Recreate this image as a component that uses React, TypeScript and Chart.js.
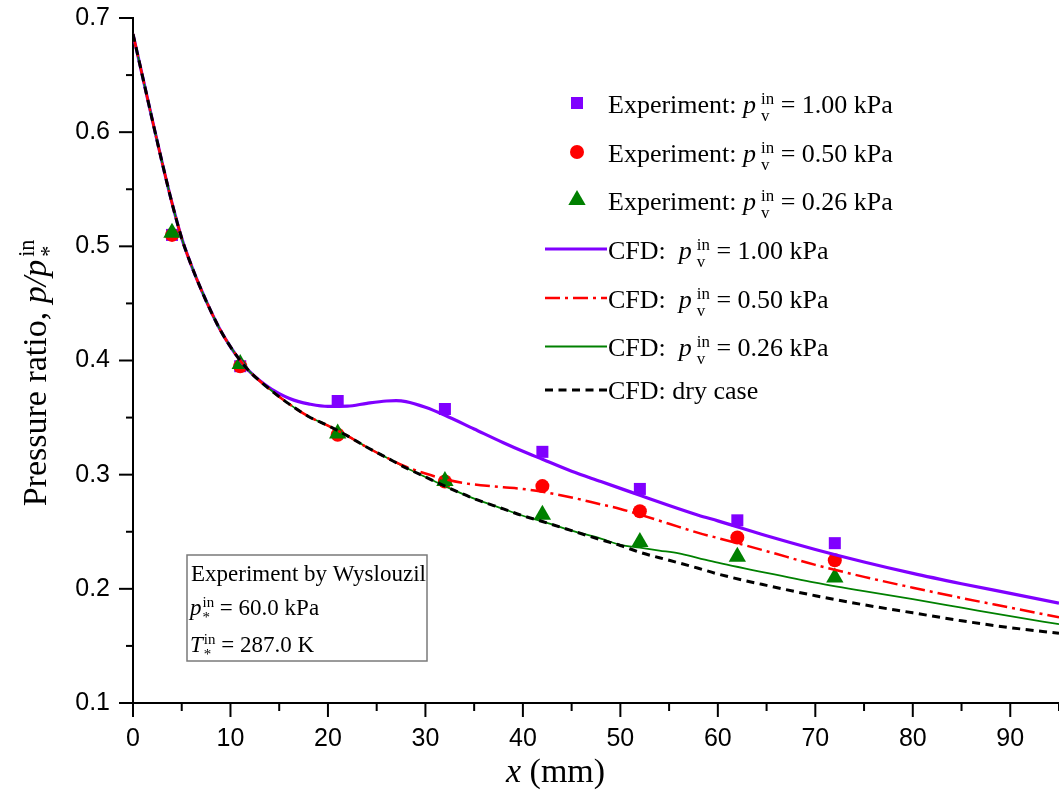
import React, { useEffect, useRef } from 'react';
import { Chart, registerables } from 'chart.js';

Chart.register(...registerables);

// ---------- Experimental data (x in mm, p/p*in) ----------
const expX = [4, 11, 21, 32, 42, 52, 62, 72];
const exp100 = [0.510, 0.395, 0.3645, 0.3575, 0.320, 0.2875, 0.260, 0.240];
const exp050 = [0.510, 0.395, 0.335, 0.294, 0.290, 0.268, 0.245, 0.225];
const exp026 = [0.512, 0.397, 0.336, 0.2945, 0.265, 0.241, 0.228, 0.210];

// ---------- CFD curves ----------
const cfd100X = [0, 1, 2, 3, 4, 5, 6, 7, 8, 9, 10, 11, 12, 14, 15, 16, 17, 18, 20, 22, 24, 26, 27, 28, 30, 32, 35, 38, 40, 42, 45, 48, 50, 52, 55, 58, 60, 65, 70, 75, 80, 85, 90, 95];
const cfd100Y = [0.686, 0.648, 0.610, 0.573, 0.538, 0.507, 0.483, 0.462, 0.443, 0.426, 0.412, 0.400, 0.390, 0.376, 0.371, 0.367, 0.364, 0.362, 0.3598, 0.360, 0.3625, 0.3645, 0.3648, 0.364, 0.359, 0.352, 0.340, 0.328, 0.3205, 0.3135, 0.303, 0.294, 0.288, 0.282, 0.273, 0.2645, 0.2595, 0.2465, 0.2345, 0.2235, 0.2135, 0.2045, 0.196, 0.1875];

const cfd050X = [0, 1, 2, 3, 4, 5, 6, 7, 8, 9, 10, 11, 12, 14, 16, 18, 20, 22, 24, 26, 28, 30, 32, 34, 36, 38, 40, 42, 45, 48, 50, 52, 55, 58, 60, 65, 70, 75, 80, 85, 90, 95];
const cfd050Y = [0.686, 0.648, 0.610, 0.573, 0.538, 0.507, 0.483, 0.462, 0.443, 0.426, 0.412, 0.400, 0.390, 0.375, 0.362, 0.351, 0.343, 0.334, 0.324, 0.315, 0.307, 0.301, 0.296, 0.2925, 0.2905, 0.289, 0.2875, 0.285, 0.280, 0.274, 0.270, 0.265, 0.257, 0.249, 0.2445, 0.233, 0.221, 0.2105, 0.201, 0.192, 0.1835, 0.175];

const cfd026X = [0, 1, 2, 3, 4, 5, 6, 7, 8, 9, 10, 11, 12, 14, 16, 18, 20, 22, 24, 26, 28, 30, 32, 35, 38, 40, 42, 45, 48, 50, 52, 54, 56, 58, 60, 65, 70, 75, 80, 85, 90, 95];
const cfd026Y = [0.686, 0.648, 0.610, 0.573, 0.538, 0.507, 0.483, 0.462, 0.443, 0.426, 0.412, 0.400, 0.390, 0.375, 0.362, 0.351, 0.343, 0.334, 0.324, 0.315, 0.306, 0.298, 0.290, 0.279, 0.270, 0.264, 0.259, 0.251, 0.244, 0.2385, 0.236, 0.2335, 0.231, 0.227, 0.223, 0.214, 0.2055, 0.198, 0.191, 0.1835, 0.176, 0.169];

const dryX = [0, 1, 2, 3, 4, 5, 6, 7, 8, 9, 10, 11, 12, 14, 16, 18, 20, 22, 24, 26, 28, 30, 32, 35, 38, 40, 42, 45, 48, 50, 52, 55, 58, 60, 65, 70, 75, 80, 85, 90, 95];
const dryY = [0.686, 0.648, 0.610, 0.573, 0.538, 0.507, 0.483, 0.462, 0.443, 0.426, 0.412, 0.400, 0.390, 0.375, 0.362, 0.351, 0.343, 0.334, 0.324, 0.315, 0.306, 0.298, 0.290, 0.279, 0.270, 0.264, 0.259, 0.251, 0.243, 0.238, 0.232, 0.225, 0.218, 0.213, 0.203, 0.194, 0.186, 0.179, 0.172, 0.166, 0.161];

// ---------- Axis ticks ----------
const xMajorTicks = [0, 10, 20, 30, 40, 50, 60, 70, 80, 90];
const xMinorTicks = [5, 15, 25, 35, 45, 55, 65, 75, 85, 95];
const yMajorTicks = [0.1, 0.2, 0.3, 0.4, 0.5, 0.6, 0.7];
const yMinorTicks = [0.15, 0.25, 0.35, 0.45, 0.55, 0.65];

const PURPLE = '#8000ff';
const RED = '#ff0000';
const GREEN = '#008000';
const BLACK = '#000000';

const SANS = '"Liberation Sans", Arial, sans-serif';
const SERIF = '"Liberation Serif", "Times New Roman", serif';

const W = 1059;
const H = 796;

type Part = { t: string; i?: boolean; sup?: string; sub?: string };

function rich(ctx: CanvasRenderingContext2D, x: number, y: number, parts: Part[], size: number, draw: boolean, gap = 3): number {
  let cx = x;
  for (const p of parts) {
    ctx.font = `${p.i ? 'italic ' : ''}${size}px ${SERIF}`;
    if (draw) ctx.fillText(p.t, cx, y);
    cx += ctx.measureText(p.t).width;
    if (p.sup || p.sub) {
      cx += gap;
      const s = size * 0.65;
      ctx.font = `${s}px ${SERIF}`;
      let w = 0;
      if (p.sup) {
        if (draw) ctx.fillText(p.sup, cx, y - size * 0.36);
        w = Math.max(w, ctx.measureText(p.sup).width);
      }
      if (p.sub) {
        if (draw) ctx.fillText(p.sub, cx, y + size * 0.3);
        w = Math.max(w, ctx.measureText(p.sub).width);
      }
      cx += w;
    }
  }
  return cx - x;
}

const overlay = {
  id: 'overlay',
  afterDraw(chart: any) {
    const ctx: CanvasRenderingContext2D = chart.ctx;
    const xs = chart.scales.x;
    const ys = chart.scales.y;
    const area = chart.chartArea;
    ctx.save();
    // ticks
    ctx.strokeStyle = '#000';
    ctx.lineWidth = 2;
    ctx.setLineDash([]);
    const tick = (x1: number, y1: number, x2: number, y2: number) => {
      ctx.beginPath(); ctx.moveTo(x1, y1); ctx.lineTo(x2, y2); ctx.stroke();
    };
    xMajorTicks.forEach(v => { const px = xs.getPixelForValue(v); tick(px, area.bottom, px, area.bottom + 14); });
    xMinorTicks.forEach(v => { const px = xs.getPixelForValue(v); tick(px, area.bottom, px, area.bottom + 8); });
    yMajorTicks.forEach(v => { const py = ys.getPixelForValue(v); tick(area.left, py, area.left - 14, py); });
    yMinorTicks.forEach(v => { const py = ys.getPixelForValue(v); tick(area.left, py, area.left - 7, py); });

    ctx.fillStyle = '#000';
    ctx.textBaseline = 'alphabetic';
    ctx.textAlign = 'left';

    // Y axis title
    const yParts: Part[] = [
      { t: 'Pressure ratio, ' },
      { t: 'p/p', i: true, sup: 'in', sub: '*' },
    ];
    const ySize = 34;
    const yW = rich(ctx, 0, 0, yParts, ySize, false);
    ctx.save();
    ctx.translate(46, 373);
    ctx.rotate(-Math.PI / 2);
    rich(ctx, -yW / 2, 0, yParts, ySize, true);
    ctx.restore();

    // X axis title
    rich(ctx, 506, 782, [{ t: 'x', i: true }, { t: ' (mm)' }], 34, true);

    // Legend
    const lx0 = 545, lx1 = 607, mx = 577, tx = 608, fs = 26;
    ctx.fillStyle = PURPLE;
    ctx.fillRect(mx - 6, 103 - 6, 12, 12);
    ctx.fillStyle = RED;
    ctx.beginPath(); ctx.arc(mx, 152, 7, 0, Math.PI * 2); ctx.fill();
    ctx.fillStyle = GREEN;
    ctx.beginPath();
    const r = 10;
    ctx.moveTo(mx, 200 - r);
    ctx.lineTo(mx + r * Math.sin(2 * Math.PI / 3), 200 + r / 2);
    ctx.lineTo(mx - r * Math.sin(2 * Math.PI / 3), 200 + r / 2);
    ctx.closePath(); ctx.fill();

    const legLine = (y: number, color: string, w: number, dash: number[]) => {
      ctx.strokeStyle = color; ctx.lineWidth = w; ctx.setLineDash(dash);
      ctx.beginPath(); ctx.moveTo(lx0, y); ctx.lineTo(lx1, y); ctx.stroke();
    };
    legLine(249, PURPLE, 3.2, []);
    legLine(298, RED, 2.5, [15, 5, 3, 5]);
    legLine(346.5, GREEN, 1.8, []);
    legLine(390, BLACK, 3, [8, 5.5]);
    ctx.setLineDash([]);

    ctx.fillStyle = '#000';
    const expRow = (y: number, val: string) =>
      rich(ctx, tx, y, [{ t: 'Experiment: ' }, { t: 'p', i: true, sup: 'in', sub: 'v' }, { t: ' = ' + val }], fs, true, 5);
    expRow(113, '1.00 kPa');
    expRow(162, '0.50 kPa');
    expRow(210, '0.26 kPa');
    const cfdRow = (y: number, val: string) =>
      rich(ctx, tx, y, [{ t: 'CFD:  ' }, { t: 'p', i: true, sup: 'in', sub: 'v' }, { t: ' = ' + val }], fs, true, 5);
    cfdRow(259, '1.00 kPa');
    cfdRow(308, '0.50 kPa');
    cfdRow(356, '0.26 kPa');
    rich(ctx, tx, 399, [{ t: 'CFD: dry case' }], fs, true);

    // Annotation box
    ctx.strokeStyle = '#7a7a7a';
    ctx.lineWidth = 1.5;
    ctx.strokeRect(187, 555, 240, 106);
    ctx.fillStyle = '#000';
    const bs = 23;
    rich(ctx, 191, 581, [{ t: 'Experiment by Wyslouzil' }], bs, true);
    rich(ctx, 190, 615, [{ t: 'p', i: true, sup: 'in', sub: '*' }, { t: ' = 60.0 kPa' }], bs, true, 1);
    rich(ctx, 190, 652, [{ t: 'T', i: true, sup: 'in', sub: '*' }, { t: ' = 287.0 K' }], bs, true, 1);

    ctx.restore();
  },
};

const pts = (xs: number[], ys: number[]) => xs.map((x, i) => ({ x, y: ys[i] }));

export default function App() {
  const ref = useRef<HTMLCanvasElement | null>(null);
  useEffect(() => {
    if (!ref.current) return;
    const lineBase = { showLine: true, pointRadius: 0, cubicInterpolationMode: 'monotone' as const, fill: false };
    const chart = new Chart(ref.current, {
      type: 'scatter',
      data: {
        datasets: [
          { ...lineBase, label: 'CFD dry', data: pts(dryX, dryY), borderColor: BLACK, borderWidth: 3, borderDash: [8, 5.5], order: 1 },
          { ...lineBase, label: 'CFD 0.50', data: pts(cfd050X, cfd050Y), borderColor: RED, borderWidth: 2.5, borderDash: [15, 5, 3, 5], order: 2 },
          { ...lineBase, label: 'CFD 0.26', data: pts(cfd026X, cfd026Y), borderColor: GREEN, borderWidth: 1.8, order: 3 },
          { ...lineBase, label: 'CFD 1.00', data: pts(cfd100X, cfd100Y), borderColor: PURPLE, borderWidth: 3.2, order: 4 },
          { label: 'Exp 0.26', data: pts(expX, exp026), pointStyle: 'triangle', pointRadius: 10, backgroundColor: GREEN, borderColor: GREEN, pointBorderWidth: 0, showLine: false, order: 5 },
          { label: 'Exp 0.50', data: pts(expX, exp050), pointStyle: 'circle', pointRadius: 7, backgroundColor: RED, borderColor: RED, pointBorderWidth: 0, showLine: false, order: 6 },
          { label: 'Exp 1.00', data: pts(expX, exp100), pointStyle: 'rect', pointRadius: 8.5, backgroundColor: PURPLE, borderColor: PURPLE, pointBorderWidth: 0, showLine: false, order: 7 },
        ] as any,
      },
      options: {
        animation: false,
        responsive: false,
        maintainAspectRatio: false,
        devicePixelRatio: 1,
        layout: { autoPadding: false, padding: { top: 18, right: 0, bottom: 0, left: 0 } },
        plugins: { legend: { display: false }, tooltip: { enabled: false }, title: { display: false } },
        scales: {
          x: {
            type: 'linear',
            min: 0,
            max: 95,
            afterFit: (s: any) => { s.height = 93; s.paddingLeft = 0; s.paddingRight = 0; },
            grid: { display: false, drawTicks: false },
            border: { display: true, color: '#000', width: 2 },
            ticks: {
              stepSize: 10,
              includeBounds: false,
              color: '#000',
              font: { family: SANS, size: 25 },
              padding: 21,
              maxRotation: 0,
              autoSkip: false,
              callback: (v: any) => String(v),
            },
          },
          y: {
            type: 'linear',
            min: 0.1,
            max: 0.7,
            afterFit: (s: any) => { s.width = 133; s.paddingTop = 0; s.paddingBottom = 0; },
            grid: { display: false, drawTicks: false },
            border: { display: true, color: '#000', width: 2 },
            ticks: {
              stepSize: 0.1,
              color: '#000',
              font: { family: SANS, size: 25 },
              padding: 23,
              autoSkip: false,
              callback: (v: any) => Number(v).toFixed(1),
            },
          },
        },
      } as any,
      plugins: [overlay],
    });
    return () => chart.destroy();
  }, []);
  return (
    <div style={{ position: 'absolute', left: 0, top: 0, width: W, height: H, background: '#fff' }}>
      <canvas ref={ref} width={W} height={H} style={{ display: 'block', width: W, height: H }} />
    </div>
  );
}
